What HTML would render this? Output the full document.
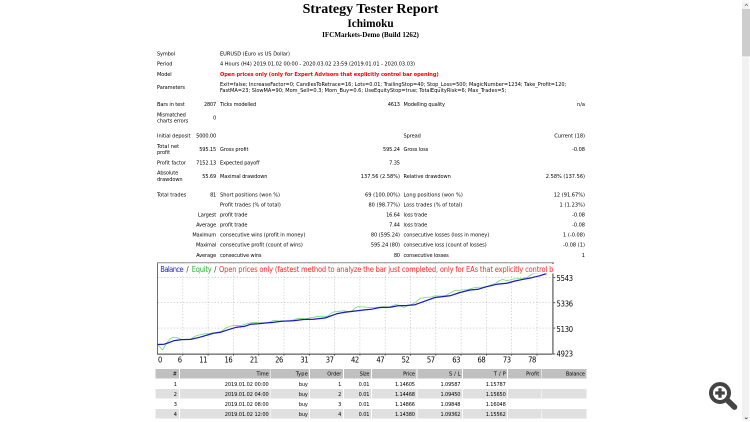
<!DOCTYPE html>
<html><head><meta charset="utf-8"><title>Strategy Tester: Ichimoku</title>
<style>
html,body{margin:0;padding:0;background:#fff;overflow:hidden;width:750px;height:422px;}
body{position:relative;font-family:"DejaVu Sans Condensed","Liberation Sans",sans-serif;color:#000;}
.t{position:absolute;white-space:nowrap;font-size:5.6px;line-height:8px;color:#000;}
.h{position:absolute;white-space:nowrap;font-family:"Liberation Serif",serif;font-weight:bold;text-align:center;left:0;width:741px;color:#000;}
.c{position:absolute;height:9.55px;}
.hd{background:#c0c0c0;}
.ev{background:#e0e0e0;}
svg{position:absolute;left:0;top:0;}
.lg{position:absolute;left:158.2px;top:264px;width:395.7px;height:9.3px;overflow:hidden;background:#fff;}
#o{position:absolute;left:0;top:0;width:1501px;height:845px;transform:translate(-.5px,-.5px) scale(.5);transform-origin:0 0;will-change:transform;background:#fff;}
#z{position:absolute;left:0.5px;top:0.5px;width:750px;height:422px;zoom:2;}
</style></head><body><div id="o"><div id="z">
<div class="h" style="top:0.05px;font-size:14px;line-height:17px;">Strategy Tester Report</div>
<div class="h" style="top:16.3px;font-size:11.25px;line-height:14px;">Ichimoku</div>
<div class="h" style="top:29.5px;font-size:7.08px;line-height:10px;">IFCMarkets-Demo (Build 1262)</div>

<!-- trades table backgrounds -->
<div id="tbl">
<div class="c hd" style="left:155.3px;top:369.0px;width:23.9px"></div>
<div class="c hd" style="left:180.0px;top:369.0px;width:90.3px"></div>
<div class="c hd" style="left:271.2px;top:369.0px;width:38.0px"></div>
<div class="c hd" style="left:310.0px;top:369.0px;width:33.0px"></div>
<div class="c hd" style="left:343.8px;top:369.0px;width:27.4px"></div>
<div class="c hd" style="left:372.0px;top:369.0px;width:44.7px"></div>
<div class="c hd" style="left:417.5px;top:369.0px;width:44.7px"></div>
<div class="c hd" style="left:463.0px;top:369.0px;width:44.2px"></div>
<div class="c hd" style="left:508.0px;top:369.0px;width:33.3px"></div>
<div class="c hd" style="left:542.2px;top:369.0px;width:44.1px"></div>
<div class="c ev" style="left:155.3px;top:389.1px;width:23.9px"></div>
<div class="c ev" style="left:180.0px;top:389.1px;width:90.3px"></div>
<div class="c ev" style="left:271.2px;top:389.1px;width:38.0px"></div>
<div class="c ev" style="left:310.0px;top:389.1px;width:33.0px"></div>
<div class="c ev" style="left:343.8px;top:389.1px;width:27.4px"></div>
<div class="c ev" style="left:372.0px;top:389.1px;width:44.7px"></div>
<div class="c ev" style="left:417.5px;top:389.1px;width:44.7px"></div>
<div class="c ev" style="left:463.0px;top:389.1px;width:44.2px"></div>
<div class="c ev" style="left:508.0px;top:389.1px;width:33.3px"></div>
<div class="c ev" style="left:542.2px;top:389.1px;width:44.1px"></div>
<div class="c ev" style="left:155.3px;top:409.2px;width:23.9px"></div>
<div class="c ev" style="left:180.0px;top:409.2px;width:90.3px"></div>
<div class="c ev" style="left:271.2px;top:409.2px;width:38.0px"></div>
<div class="c ev" style="left:310.0px;top:409.2px;width:33.0px"></div>
<div class="c ev" style="left:343.8px;top:409.2px;width:27.4px"></div>
<div class="c ev" style="left:372.0px;top:409.2px;width:44.7px"></div>
<div class="c ev" style="left:417.5px;top:409.2px;width:44.7px"></div>
<div class="c ev" style="left:463.0px;top:409.2px;width:44.2px"></div>
<div class="c ev" style="left:508.0px;top:409.2px;width:33.3px"></div>
<div class="c ev" style="left:542.2px;top:409.2px;width:44.1px"></div>
</div>

<!-- chart -->
<svg width="750" height="422" viewBox="0 0 750 422">
 <g stroke="#b8b8b8" stroke-width="0.6" stroke-dasharray="1.3 1.85" fill="none">
  <path d="M182.8 263.4V353.6"/>
  <path d="M208.1 263.4V353.6"/>
  <path d="M233.4 263.4V353.6"/>
  <path d="M258.7 263.4V353.6"/>
  <path d="M284.0 263.4V353.6"/>
  <path d="M309.3 263.4V353.6"/>
  <path d="M334.6 263.4V353.6"/>
  <path d="M359.9 263.4V353.6"/>
  <path d="M385.2 263.4V353.6"/>
  <path d="M410.5 263.4V353.6"/>
  <path d="M435.8 263.4V353.6"/>
  <path d="M461.1 263.4V353.6"/>
  <path d="M486.4 263.4V353.6"/>
  <path d="M511.7 263.4V353.6"/>
  <path d="M537.0 263.4V353.6"/>
  <path d="M158 277.4H552.4"/>
  <path d="M158 302.7H552.4"/>
  <path d="M158 328.1H552.4"/>
 </g>
 <polyline fill="none" stroke="#70de70" stroke-width="0.8" stroke-linejoin="round" points="157.5,344.5 162.5,350.0 166.5,343.5 170.0,339.0 173.3,337.4 177.0,337.6 181.0,339.3 186.0,339.5 191.0,339.0 195.0,336.3 200.0,334.6 205.0,333.8 210.0,333.3 216.0,332.5 221.0,331.5 226.0,328.0 231.0,326.0 236.0,325.3 241.0,325.5 246.0,324.0 251.0,322.8 256.0,322.5 262.0,322.8 268.0,322.8 272.0,321.0 274.0,320.3 280.0,321.0 290.0,320.8 296.0,319.0 299.0,318.3 305.0,318.8 312.0,317.5 318.0,316.3 324.0,316.8 328.0,316.0 332.0,312.5 336.0,311.5 340.0,311.2 344.0,310.8 348.0,311.5 352.0,311.0 355.0,308.0 358.0,306.7 364.0,307.0 370.0,307.5 376.0,307.3 382.0,306.8 390.0,306.8 396.0,304.5 400.0,305.8 404.0,307.5 408.0,305.5 412.0,304.2 416.0,302.0 420.0,298.3 426.0,297.5 431.0,297.0 435.0,295.8 440.0,296.0 446.0,295.5 450.0,293.0 455.0,290.5 462.0,290.0 468.0,289.5 475.0,287.5 483.0,287.0 488.0,286.0 492.0,284.5 495.0,283.5 499.0,281.0 502.5,279.3 506.7,280.7 510.0,280.0 513.3,279.0 520.0,278.5 526.7,277.7 530.0,275.5 533.3,273.5 538.3,273.2"/>
 <polyline fill="none" stroke="#1818c8" stroke-width="1.25" stroke-linejoin="round" points="157.5,344.5 164.2,344.2 169.0,342.6 174.3,340.6 181.7,339.6 190.8,339.4 200.0,337.2 207.5,335.0 213.3,333.3 220.8,332.2 228.3,329.7 236.7,327.2 245.0,326.2 250.8,324.2 258.3,323.7 266.7,322.9 272.0,322.5 281.7,321.2 293.3,320.8 303.3,319.5 313.3,319.2 325.0,318.0 336.7,313.8 345.0,312.2 353.3,311.2 363.3,310.0 371.7,309.2 380.0,307.5 390.0,307.3 398.3,305.8 406.7,305.5 415.0,304.7 423.3,301.7 435.0,297.5 441.7,296.7 450.0,295.8 460.0,292.5 470.0,290.0 478.3,289.2 486.7,286.7 496.7,284.3 506.7,283.3 515.0,281.0 523.3,279.3 531.7,277.7 540.0,275.7 546.7,273.5"/>
 <path d="M157.5 262.7V354.2" stroke="#3a3a3a" stroke-width="0.75" fill="none"/>
 <path d="M157.1 354.1H554" stroke="#383838" stroke-width="1.05" fill="none"/>
 <path d="M157.1 262.8H553.8" stroke="#8a8a8a" stroke-width="1" fill="none"/>
 <path d="M552.9 262.5V354.5" stroke="#7a7a7a" stroke-width="1.5" fill="none"/>
 <g stroke="#333" stroke-width="0.8"><path d="M182.8 354.4V355.6"/><path d="M208.1 354.4V355.6"/><path d="M233.4 354.4V355.6"/><path d="M258.7 354.4V355.6"/><path d="M284.0 354.4V355.6"/><path d="M309.3 354.4V355.6"/><path d="M334.6 354.4V355.6"/><path d="M359.9 354.4V355.6"/><path d="M385.2 354.4V355.6"/><path d="M410.5 354.4V355.6"/><path d="M435.8 354.4V355.6"/><path d="M461.1 354.4V355.6"/><path d="M486.4 354.4V355.6"/><path d="M511.7 354.4V355.6"/><path d="M537.0 354.4V355.6"/><path d="M553.6 277.4H555.2"/><path d="M553.6 302.7H555.2"/><path d="M553.6 328.1H555.2"/><path d="M553.6 353.9H555.2"/></g>
</svg>
<div class="lg"><span class="t" style="top:0.50px;left:2.10px;font-size:7.5px;line-height:10.0px;color:#2626c4;letter-spacing:-0.586px;">Balance</span>
<span class="t" style="top:0.50px;left:28.20px;font-size:7.5px;line-height:10.0px;color:#333;">/</span>
<span class="t" style="top:0.50px;left:33.50px;font-size:7.5px;line-height:10.0px;color:#2cb42c;letter-spacing:-0.267px;">Equity</span>
<span class="t" style="top:0.50px;left:55.90px;font-size:7.5px;line-height:10.0px;color:#333;">/</span>
<span class="t" style="top:0.50px;left:60.80px;font-size:7.5px;line-height:10.0px;color:#ff2a2a;letter-spacing:-0.182px;">Open prices only (fastest method to analyze the bar just completed, only for EAs that explicitly control bar opening)</span></div>

<span class="t" style="top:50.00px;left:157.00px;letter-spacing:-0.150px;">Symbol</span>
<span class="t" style="top:50.00px;left:220.00px;letter-spacing:-0.008px;">EURUSD (Euro vs US Dollar)</span>
<span class="t" style="top:60.00px;left:157.00px;letter-spacing:-0.042px;">Period</span>
<span class="t" style="top:60.00px;left:220.00px;letter-spacing:-0.022px;">4 Hours (H4) 2019.01.02 00:00 - 2020.03.02 23:59 (2019.01.01 - 2020.03.03)</span>
<span class="t" style="top:70.50px;left:157.00px;letter-spacing:-0.108px;">Model</span>
<span class="t" style="top:70.50px;left:220.00px;color:#ff0000;font-weight:bold;letter-spacing:-0.034px;">Open prices only (only for Expert Advisors that explicitly control bar opening)</span>
<span class="t" style="top:83.50px;left:157.00px;letter-spacing:-0.087px;">Parameters</span>
<span class="t" style="top:80.50px;left:220.00px;letter-spacing:-0.005px;">Exit=false; IncreaseFactor=0; CandlesToRetrace=16; Lots=0.01; TrailingStop=40; Stop_Loss=500; MagicNumber=1234; Take_Profit=120;</span>
<span class="t" style="top:86.50px;left:220.00px;">FastMA=23; SlowMA=90; Mom_Sell=0.3; Mom_Buy=0.6; UseEquityStop=true; TotalEquityRisk=6; Max_Trades=5;</span>
<span class="t" style="top:100.50px;left:157.00px;letter-spacing:-0.089px;">Bars in test</span>
<span class="t" style="top:100.50px;right:533.80px;letter-spacing:-0.191px;margin-right:0.191px;">2807</span>
<span class="t" style="top:100.50px;left:220.00px;letter-spacing:-0.105px;">Ticks modelled</span>
<span class="t" style="top:100.50px;right:350.00px;letter-spacing:-0.191px;margin-right:0.191px;">4613</span>
<span class="t" style="top:100.50px;left:403.50px;letter-spacing:-0.101px;">Modelling quality</span>
<span class="t" style="top:100.50px;right:165.00px;letter-spacing:0.012px;margin-right:-0.012px;">n/a</span>
<span class="t" style="top:111.00px;left:157.00px;letter-spacing:-0.198px;">Mismatched</span>
<span class="t" style="top:117.00px;left:157.00px;letter-spacing:-0.065px;">charts errors</span>
<span class="t" style="top:114.00px;right:533.80px;">0</span>
<span class="t" style="top:132.00px;left:157.00px;letter-spacing:-0.042px;">Initial deposit</span>
<span class="t" style="top:132.00px;right:533.80px;letter-spacing:-0.127px;margin-right:0.127px;">5000.00</span>
<span class="t" style="top:132.00px;left:403.50px;letter-spacing:-0.084px;">Spread</span>
<span class="t" style="top:132.00px;right:165.00px;">Current (18)</span>
<span class="t" style="top:142.50px;left:157.00px;letter-spacing:0.073px;">Total net</span>
<span class="t" style="top:148.50px;left:157.00px;letter-spacing:-0.056px;">profit</span>
<span class="t" style="top:145.50px;right:533.80px;letter-spacing:-0.125px;margin-right:0.125px;">595.15</span>
<span class="t" style="top:145.50px;left:220.00px;letter-spacing:-0.058px;">Gross profit</span>
<span class="t" style="top:145.50px;right:350.00px;letter-spacing:-0.125px;margin-right:0.125px;">595.24</span>
<span class="t" style="top:145.50px;left:403.50px;letter-spacing:-0.077px;">Gross loss</span>
<span class="t" style="top:145.50px;right:165.00px;letter-spacing:-0.030px;margin-right:0.030px;">-0.08</span>
<span class="t" style="top:159.00px;left:157.00px;letter-spacing:-0.037px;">Profit factor</span>
<span class="t" style="top:159.00px;right:533.80px;letter-spacing:-0.127px;margin-right:0.127px;">7152.13</span>
<span class="t" style="top:159.00px;left:220.00px;letter-spacing:-0.099px;">Expected payoff</span>
<span class="t" style="top:159.00px;right:350.00px;letter-spacing:-0.111px;margin-right:0.111px;">7.35</span>
<span class="t" style="top:169.00px;left:157.00px;letter-spacing:-0.112px;">Absolute</span>
<span class="t" style="top:175.50px;left:157.00px;letter-spacing:-0.060px;">drawdown</span>
<span class="t" style="top:172.50px;right:533.80px;letter-spacing:-0.120px;margin-right:0.120px;">55.69</span>
<span class="t" style="top:172.50px;left:220.00px;letter-spacing:-0.089px;">Maximal drawdown</span>
<span class="t" style="top:172.50px;right:350.00px;letter-spacing:0.006px;margin-right:-0.006px;">137.56 (2.58%)</span>
<span class="t" style="top:172.50px;left:403.50px;letter-spacing:-0.038px;">Relative drawdown</span>
<span class="t" style="top:172.50px;right:165.00px;letter-spacing:0.006px;margin-right:-0.006px;">2.58% (137.56)</span>
<span class="t" style="top:191.00px;left:157.00px;">Total trades</span>
<span class="t" style="top:191.00px;right:533.80px;letter-spacing:-0.291px;margin-right:0.291px;">81</span>
<span class="t" style="top:191.00px;left:220.00px;letter-spacing:0.002px;">Short positions (won %)</span>
<span class="t" style="top:191.00px;right:350.00px;letter-spacing:0.062px;margin-right:-0.062px;">69 (100.00%)</span>
<span class="t" style="top:191.00px;left:403.50px;letter-spacing:0.033px;">Long positions (won %)</span>
<span class="t" style="top:191.00px;right:165.00px;letter-spacing:0.018px;margin-right:-0.018px;">12 (91.67%)</span>
<span class="t" style="top:201.00px;left:220.00px;letter-spacing:0.008px;">Profit trades (% of total)</span>
<span class="t" style="top:201.00px;right:350.00px;letter-spacing:0.044px;margin-right:-0.044px;">80 (98.77%)</span>
<span class="t" style="top:201.00px;left:403.50px;letter-spacing:0.008px;">Loss trades (% of total)</span>
<span class="t" style="top:201.00px;right:165.00px;letter-spacing:0.091px;margin-right:-0.091px;">1 (1.23%)</span>
<span class="t" style="top:211.00px;right:533.80px;letter-spacing:-0.099px;margin-right:0.099px;">Largest</span>
<span class="t" style="top:211.00px;left:220.00px;letter-spacing:-0.080px;">profit trade</span>
<span class="t" style="top:211.00px;right:350.00px;letter-spacing:-0.120px;margin-right:0.120px;">16.64</span>
<span class="t" style="top:211.00px;left:403.50px;letter-spacing:-0.116px;">loss trade</span>
<span class="t" style="top:211.00px;right:165.00px;letter-spacing:-0.030px;margin-right:0.030px;">-0.08</span>
<span class="t" style="top:221.00px;right:533.80px;letter-spacing:-0.090px;margin-right:0.090px;">Average</span>
<span class="t" style="top:221.00px;left:220.00px;letter-spacing:-0.080px;">profit trade</span>
<span class="t" style="top:221.00px;right:350.00px;letter-spacing:-0.111px;margin-right:0.111px;">7.44</span>
<span class="t" style="top:221.00px;left:403.50px;letter-spacing:-0.116px;">loss trade</span>
<span class="t" style="top:221.00px;right:165.00px;letter-spacing:-0.030px;margin-right:0.030px;">-0.08</span>
<span class="t" style="top:231.00px;right:533.80px;letter-spacing:-0.160px;margin-right:0.160px;">Maximum</span>
<span class="t" style="top:231.00px;left:220.00px;letter-spacing:-0.052px;">consecutive wins (profit in money)</span>
<span class="t" style="top:231.00px;right:350.00px;letter-spacing:-0.039px;margin-right:0.039px;">80 (595.24)</span>
<span class="t" style="top:231.00px;left:403.50px;letter-spacing:-0.054px;">consecutive losses (loss in money)</span>
<span class="t" style="top:231.00px;right:165.00px;letter-spacing:0.032px;margin-right:-0.032px;">1 (-0.08)</span>
<span class="t" style="top:241.00px;right:533.80px;letter-spacing:-0.158px;margin-right:0.158px;">Maximal</span>
<span class="t" style="top:241.00px;left:220.00px;letter-spacing:-0.043px;">consecutive profit (count of wins)</span>
<span class="t" style="top:241.00px;right:350.00px;letter-spacing:-0.039px;margin-right:0.039px;">595.24 (80)</span>
<span class="t" style="top:241.00px;left:403.50px;letter-spacing:-0.045px;">consecutive loss (count of losses)</span>
<span class="t" style="top:241.00px;right:165.00px;letter-spacing:0.032px;margin-right:-0.032px;">-0.08 (1)</span>
<span class="t" style="top:251.50px;right:533.80px;letter-spacing:-0.090px;margin-right:0.090px;">Average</span>
<span class="t" style="top:251.50px;left:220.00px;letter-spacing:-0.106px;">consecutive wins</span>
<span class="t" style="top:251.50px;right:350.00px;letter-spacing:-0.291px;margin-right:0.291px;">80</span>
<span class="t" style="top:251.50px;left:403.50px;letter-spacing:-0.111px;">consecutive losses</span>
<span class="t" style="top:251.50px;right:165.00px;">1</span>
<span class="t" style="top:370.00px;right:573.00px;">#</span>
<span class="t" style="top:370.00px;right:481.30px;letter-spacing:-0.034px;margin-right:0.034px;">Time</span>
<span class="t" style="top:370.00px;right:442.20px;letter-spacing:0.208px;margin-right:-0.208px;">Type</span>
<span class="t" style="top:370.00px;right:408.70px;letter-spacing:-0.064px;margin-right:0.064px;">Order</span>
<span class="t" style="top:370.00px;right:380.50px;letter-spacing:-0.167px;margin-right:0.167px;">Size</span>
<span class="t" style="top:370.00px;right:335.00px;letter-spacing:-0.091px;margin-right:0.091px;">Price</span>
<span class="t" style="top:370.00px;right:289.50px;letter-spacing:0.166px;margin-right:-0.166px;">S / L</span>
<span class="t" style="top:370.00px;right:244.20px;letter-spacing:0.250px;margin-right:-0.250px;">T / P</span>
<span class="t" style="top:370.00px;right:210.80px;letter-spacing:-0.007px;margin-right:0.007px;">Profit</span>
<span class="t" style="top:370.00px;right:165.00px;letter-spacing:-0.161px;margin-right:0.161px;">Balance</span>
<span class="t" style="top:380.50px;right:573.00px;">1</span>
<span class="t" style="top:380.50px;right:481.30px;letter-spacing:-0.060px;margin-right:0.060px;">2019.01.02 00:00</span>
<span class="t" style="top:380.50px;right:442.20px;letter-spacing:-0.178px;margin-right:0.178px;">buy</span>
<span class="t" style="top:380.50px;right:408.70px;">1</span>
<span class="t" style="top:380.50px;right:380.50px;letter-spacing:-0.111px;margin-right:0.111px;">0.01</span>
<span class="t" style="top:380.50px;right:335.00px;letter-spacing:-0.127px;margin-right:0.127px;">1.14605</span>
<span class="t" style="top:380.50px;right:289.50px;letter-spacing:-0.127px;margin-right:0.127px;">1.09587</span>
<span class="t" style="top:380.50px;right:244.20px;letter-spacing:-0.127px;margin-right:0.127px;">1.15787</span>
<span class="t" style="top:390.50px;right:573.00px;">2</span>
<span class="t" style="top:390.50px;right:481.30px;letter-spacing:-0.060px;margin-right:0.060px;">2019.01.02 04:00</span>
<span class="t" style="top:390.50px;right:442.20px;letter-spacing:-0.178px;margin-right:0.178px;">buy</span>
<span class="t" style="top:390.50px;right:408.70px;">2</span>
<span class="t" style="top:390.50px;right:380.50px;letter-spacing:-0.111px;margin-right:0.111px;">0.01</span>
<span class="t" style="top:390.50px;right:335.00px;letter-spacing:-0.127px;margin-right:0.127px;">1.14468</span>
<span class="t" style="top:390.50px;right:289.50px;letter-spacing:-0.127px;margin-right:0.127px;">1.09450</span>
<span class="t" style="top:390.50px;right:244.20px;letter-spacing:-0.127px;margin-right:0.127px;">1.15650</span>
<span class="t" style="top:400.50px;right:573.00px;">3</span>
<span class="t" style="top:400.50px;right:481.30px;letter-spacing:-0.060px;margin-right:0.060px;">2019.01.02 08:00</span>
<span class="t" style="top:400.50px;right:442.20px;letter-spacing:-0.178px;margin-right:0.178px;">buy</span>
<span class="t" style="top:400.50px;right:408.70px;">3</span>
<span class="t" style="top:400.50px;right:380.50px;letter-spacing:-0.111px;margin-right:0.111px;">0.01</span>
<span class="t" style="top:400.50px;right:335.00px;letter-spacing:-0.127px;margin-right:0.127px;">1.14866</span>
<span class="t" style="top:400.50px;right:289.50px;letter-spacing:-0.127px;margin-right:0.127px;">1.09848</span>
<span class="t" style="top:400.50px;right:244.20px;letter-spacing:-0.127px;margin-right:0.127px;">1.16048</span>
<span class="t" style="top:410.50px;right:573.00px;">4</span>
<span class="t" style="top:410.50px;right:481.30px;letter-spacing:-0.060px;margin-right:0.060px;">2019.01.02 12:00</span>
<span class="t" style="top:410.50px;right:442.20px;letter-spacing:-0.178px;margin-right:0.178px;">buy</span>
<span class="t" style="top:410.50px;right:408.70px;">4</span>
<span class="t" style="top:410.50px;right:380.50px;letter-spacing:-0.111px;margin-right:0.111px;">0.01</span>
<span class="t" style="top:410.50px;right:335.00px;letter-spacing:-0.127px;margin-right:0.127px;">1.14380</span>
<span class="t" style="top:410.50px;right:289.50px;letter-spacing:-0.127px;margin-right:0.127px;">1.09362</span>
<span class="t" style="top:410.50px;right:244.20px;letter-spacing:-0.127px;margin-right:0.127px;">1.15562</span>
<span class="t" style="top:355.00px;left:158.00px;font-size:7.5px;line-height:10.0px;color:#000;">0</span>
<span class="t" style="top:355.00px;right:567.90px;font-size:7.5px;line-height:10.0px;color:#000;">6</span>
<span class="t" style="top:355.00px;right:542.60px;font-size:7.5px;line-height:10.0px;color:#000;letter-spacing:-0.396px;margin-right:0.396px;">11</span>
<span class="t" style="top:355.00px;right:517.30px;font-size:7.5px;line-height:10.0px;color:#000;letter-spacing:-0.396px;margin-right:0.396px;">16</span>
<span class="t" style="top:355.00px;right:492.00px;font-size:7.5px;line-height:10.0px;color:#000;letter-spacing:-0.396px;margin-right:0.396px;">21</span>
<span class="t" style="top:355.00px;right:466.70px;font-size:7.5px;line-height:10.0px;color:#000;letter-spacing:-0.396px;margin-right:0.396px;">26</span>
<span class="t" style="top:355.00px;right:441.40px;font-size:7.5px;line-height:10.0px;color:#000;letter-spacing:-0.396px;margin-right:0.396px;">31</span>
<span class="t" style="top:355.00px;right:416.10px;font-size:7.5px;line-height:10.0px;color:#000;letter-spacing:-0.396px;margin-right:0.396px;">37</span>
<span class="t" style="top:355.00px;right:390.80px;font-size:7.5px;line-height:10.0px;color:#000;letter-spacing:-0.396px;margin-right:0.396px;">42</span>
<span class="t" style="top:355.00px;right:365.50px;font-size:7.5px;line-height:10.0px;color:#000;letter-spacing:-0.396px;margin-right:0.396px;">47</span>
<span class="t" style="top:355.00px;right:340.20px;font-size:7.5px;line-height:10.0px;color:#000;letter-spacing:-0.396px;margin-right:0.396px;">52</span>
<span class="t" style="top:355.00px;right:314.90px;font-size:7.5px;line-height:10.0px;color:#000;letter-spacing:-0.396px;margin-right:0.396px;">57</span>
<span class="t" style="top:355.00px;right:289.60px;font-size:7.5px;line-height:10.0px;color:#000;letter-spacing:-0.396px;margin-right:0.396px;">63</span>
<span class="t" style="top:355.00px;right:264.30px;font-size:7.5px;line-height:10.0px;color:#000;letter-spacing:-0.396px;margin-right:0.396px;">68</span>
<span class="t" style="top:355.00px;right:239.00px;font-size:7.5px;line-height:10.0px;color:#000;letter-spacing:-0.396px;margin-right:0.396px;">73</span>
<span class="t" style="top:355.00px;right:213.70px;font-size:7.5px;line-height:10.0px;color:#000;letter-spacing:-0.396px;margin-right:0.396px;">78</span>
<span class="t" style="top:273.50px;left:556.50px;font-size:7.5px;line-height:10.0px;color:#000;letter-spacing:-0.191px;">5543</span>
<span class="t" style="top:299.00px;left:556.50px;font-size:7.5px;line-height:10.0px;color:#000;letter-spacing:-0.191px;">5336</span>
<span class="t" style="top:324.50px;left:556.50px;font-size:7.5px;line-height:10.0px;color:#000;letter-spacing:-0.191px;">5130</span>
<span class="t" style="top:349.00px;left:556.50px;font-size:7.5px;line-height:10.0px;color:#000;letter-spacing:-0.191px;">4923</span>

<!-- magnifier icon -->
<svg width="750" height="422" viewBox="0 0 750 422">
 <circle cx="720" cy="393" r="9" fill="none" stroke="#444" stroke-width="4"/>
 <path d="M727.9 400.7L734.5 407.1" stroke="#444" stroke-width="5.6" stroke-linecap="round" fill="none"/>
 <path d="M715.2 393H724.8M720 388.3V397.7" stroke="#444" stroke-width="3.3" fill="none"/>
</svg>

<!-- scrollbar -->
<div style="position:absolute;left:741.9px;top:0;width:7.2px;height:0.6px;background:#ececec;"></div>
<div style="position:absolute;left:741.9px;top:2px;width:7.2px;height:418.7px;background:#f1f1f1;"></div>
<div style="position:absolute;left:741.8px;top:9px;width:8.2px;height:47.5px;background:#cdcdcd;"></div>
<div style="position:absolute;left:741.8px;top:56.5px;width:8.2px;height:0.8px;background:#fff;"></div>
<svg width="750" height="422" viewBox="0 0 750 422">
 <path d="M744.9 5.7L746.3 4.2L747.7 5.7" stroke="#7a7a7a" stroke-width="0.8" fill="none"/>
 <path d="M744.9 417.5L746.2 418.9L747.5 417.5" stroke="#555" stroke-width="0.8" fill="none"/>
</svg>
</div></div></body></html>
